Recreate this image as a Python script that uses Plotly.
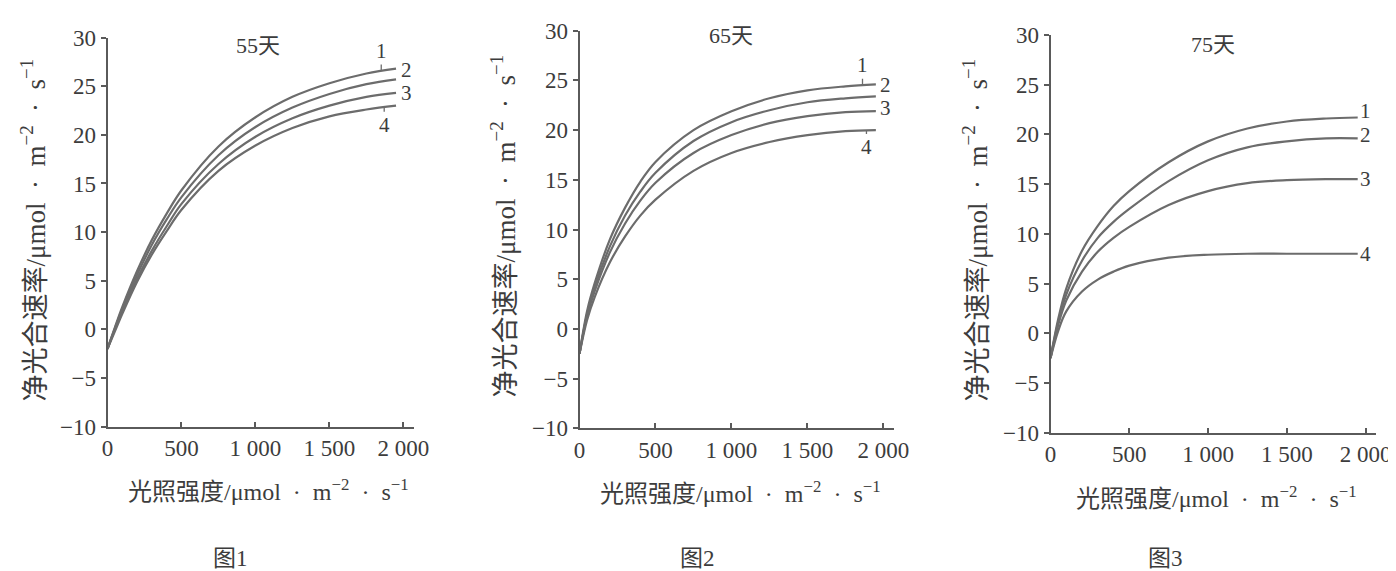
import numpy as np
import plotly.graph_objects as go

# ---------------- data ----------------
light = [0, 50, 100, 200, 300, 400, 500, 750, 1000, 1250, 1500, 1750, 1950]

day55_1 = [-2.0, 0.2, 2.3, 6.0, 9.2, 11.9, 14.3, 18.8, 21.8, 23.9, 25.3, 26.3, 26.8]
day55_2 = [-2.0, 0.1, 2.1, 5.6, 8.7, 11.3, 13.6, 17.9, 20.8, 22.8, 24.2, 25.2, 25.7]
day55_3 = [-2.0, 0.0, 1.9, 5.2, 8.1, 10.6, 12.9, 17.0, 19.8, 21.7, 23.0, 23.9, 24.3]
day55_4 = [-2.0, -0.2, 1.6, 4.9, 7.7, 10.1, 12.3, 16.3, 18.9, 20.7, 21.9, 22.6, 23.0]

day65_1 = [-2.5, 1.8, 4.6, 9.0, 12.2, 14.8, 16.8, 20.0, 21.9, 23.2, 24.0, 24.4, 24.6]
day65_2 = [-2.5, 1.5, 4.2, 8.3, 11.4, 13.8, 15.7, 18.9, 20.8, 22.0, 22.8, 23.2, 23.4]
day65_3 = [-2.5, 1.3, 3.8, 7.7, 10.6, 12.9, 14.7, 17.7, 19.5, 20.7, 21.4, 21.8, 21.9]
day65_4 = [-2.5, 0.9, 3.2, 6.7, 9.3, 11.4, 13.0, 15.9, 17.7, 18.8, 19.5, 19.9, 20.0]

day75_1 = [-2.5, 1.5, 4.5, 8.3, 10.8, 12.8, 14.3, 17.2, 19.3, 20.6, 21.3, 21.6, 21.7]
day75_2 = [-2.5, 1.2, 3.9, 7.3, 9.6, 11.2, 12.5, 15.3, 17.4, 18.7, 19.3, 19.6, 19.6]
day75_3 = [-2.5, 0.9, 3.3, 6.2, 8.2, 9.6, 10.7, 12.9, 14.3, 15.1, 15.4, 15.5, 15.5]
day75_4 = [-2.5, 0.3, 2.2, 4.2, 5.4, 6.2, 6.8, 7.6, 7.9, 8.0, 8.0, 8.0, 8.0]

panel_titles = ["55天", "65天", "75天"]
captions = ["图1", "图2", "图3"]
curve_names = ["1", "2", "3", "4"]
x_tickvals = [0, 500, 1000, 1500, 2000]
x_ticktext = ["0", "500", "1 000", "1 500", "2 000"]
y_tickvals = [-10, -5, 0, 5, 10, 15, 20, 25, 30]
y_ticktext = ["−10", "−5", "0", "5", "10", "15", "20", "25", "30"]
x_title = "光照强度/μmol  ·  m<sup>−2</sup>  ·  s<sup>−1</sup>"
y_title = "净光合速率/μmol  ·  m<sup>−2</sup>  ·  s<sup>−1</sup>"

series = [
    [day55_1, day55_2, day55_3, day55_4],
    [day65_1, day65_2, day65_3, day65_4],
    [day75_1, day75_2, day75_3, day75_4],
]

# ---------------- layout geometry (page pixels) ----------------
W, H = 1396, 571
OX, OY = 7.5, 8.0   # page offset of the figure (body margin)
panels = [
    dict(x0=107, x1=413, yb=426.7, yt=37.5, xmax=2068, title=(257, 45), ytitle=(33, 230), xtitle=(268, 490), cap=(230, 558)),
    dict(x0=579, x1=893, yb=428.3, yt=30.7, xmax=2066, title=(730, 36), ytitle=(503, 226), xtitle=(740, 492), cap=(697, 558)),
    dict(x0=1050, x1=1375, yb=432.7, yt=35.0, xmax=2063, title=(1212, 44), ytitle=(975, 230), xtitle=(1216, 497), cap=(1165, 558)),
]
# label placement: (x position on curve, xshift, yshift, arrow ay)
label_pos = [
    [(1850, 0, 0, -20), (None, 10, 9, None), (None, 10, 0, None), (1870, 0, 0, 18)],
    [(1862, 0, 0, -20), (None, 10, 11, None), (None, 10, 3, None), (1888, 0, 0, 17)],
    [(None, 8, 7, None), (None, 8, 3, None), (None, 8, 0, None), (None, 8, 0, None)],
]

line_col = "#6c6c6c"
axis_col = "#5a5a5a"
text_col = "#3c3c3c"
serif = "Liberation Serif, Noto Sans CJK SC, serif"

def fx(p):
    return (p - OX) / W

def fy(p):
    return 1 - (p - OY) / H

fig = go.Figure()
annotations = []
for i, (pn, curves) in enumerate(zip(panels, series)):
    sfx = "" if i == 0 else str(i + 1)
    xa, ya = "x" + sfx, "y" + sfx
    for j, ys in enumerate(curves):
        fig.add_trace(go.Scatter(
            x=light, y=ys, mode="lines", xaxis=xa, yaxis=ya, showlegend=False,
            line=dict(color=line_col, width=2.2, shape="spline", smoothing=1.0),
        ))
        xpos, xs, ysft, ay = label_pos[i][j]
        if xpos is None:
            xv, yv = light[-1], ys[-1]
        else:
            xv, yv = xpos, float(np.interp(xpos, light, ys))
        if ay is None:
            annotations.append(dict(x=xv, y=yv, xref=xa, yref=ya, text=curve_names[j],
                                    showarrow=False, xshift=xs, yshift=ysft,
                                    xanchor="center", yanchor="middle",
                                    font=dict(family=serif, size=21, color=text_col)))
        else:
            annotations.append(dict(x=xv, y=yv, xref=xa, yref=ya, text=curve_names[j],
                                    showarrow=True, arrowhead=0, arrowwidth=1.3, arrowcolor=line_col,
                                    ax=0, ay=ay, standoff=0,
                                    font=dict(family=serif, size=21, color=text_col)))
    fig.layout["xaxis" + sfx] = dict(
        domain=[fx(pn["x0"]), fx(pn["x1"])], range=[0, pn["xmax"]], anchor=ya,
        showline=True, linecolor=axis_col, linewidth=2, ticks="inside", ticklen=5,
        tickwidth=1.5, tickcolor=axis_col, tickvals=x_tickvals, ticktext=x_ticktext,
        showgrid=False, zeroline=False, automargin=False,
        tickfont=dict(family=serif, size=23, color=text_col),
    )
    fig.layout["yaxis" + sfx] = dict(
        domain=[fy(pn["yb"]), fy(pn["yt"])], range=[-10, 30], anchor=xa,
        showline=True, linecolor=axis_col, linewidth=2, ticks="outside", ticklen=5,
        tickwidth=1.5, tickcolor=axis_col, tickvals=y_tickvals, ticktext=y_ticktext,
        showgrid=False, zeroline=False, automargin=False,
        tickfont=dict(family=serif, size=23, color=text_col),
    )
    common = dict(xref="paper", yref="paper", showarrow=False, xanchor="center", yanchor="middle")
    annotations.append(dict(x=fx(pn["title"][0]), y=fy(pn["title"][1]), text=panel_titles[i],
                            font=dict(family=serif, size=22, color=text_col), **common))
    annotations.append(dict(x=fx(pn["xtitle"][0]), y=fy(pn["xtitle"][1]), text=x_title,
                            font=dict(family=serif, size=24, color=text_col), **common))
    annotations.append(dict(x=fx(pn["ytitle"][0]), y=fy(pn["ytitle"][1]), text=y_title, textangle=-90,
                            font=dict(family=serif, size=27, color=text_col), **common))
    annotations.append(dict(x=fx(pn["cap"][0]), y=fy(pn["cap"][1]), text=captions[i],
                            font=dict(family=serif, size=23, color=text_col), **common))

fig.update_layout(
    width=W, height=H, autosize=False,
    margin=dict(l=0, r=0, t=0, b=0, pad=0, autoexpand=False),
    paper_bgcolor="white", plot_bgcolor="white",
    annotations=annotations,
)
fig.write_html("out.html")
